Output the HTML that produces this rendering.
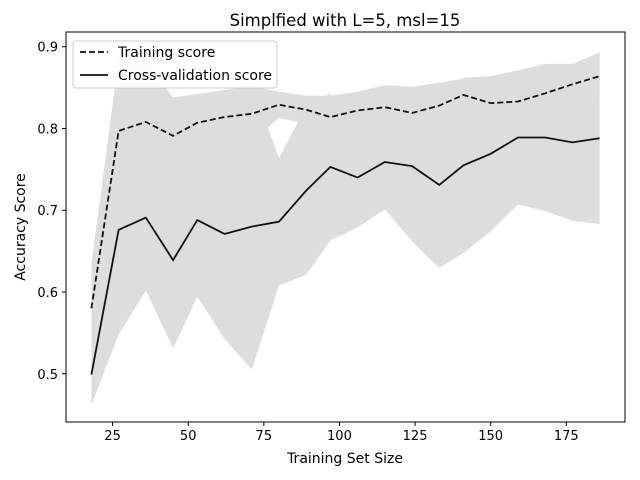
<!DOCTYPE html>
<html><head><meta charset="utf-8"><style>
html,body{margin:0;padding:0;background:#fff;}
svg{display:block;font-family:"DejaVu Sans","Liberation Sans",sans-serif;}
</style></head><body>
<svg id="chart" width="640" height="480" viewBox="0 0 640 480">
<rect x="0" y="0" width="640" height="480" fill="#fff"/>
<g id="bands"></g>
<g id="lines"></g>
<g id="axes"></g>
<text x="345" y="26" text-anchor="middle" font-size="16.5" fill="#000">Simplfied with L=5, msl=15</text>
<text x="345" y="463" text-anchor="middle" font-size="14" fill="#000">Training Set Size</text>
<text x="25" y="227" text-anchor="middle" font-size="14" fill="#000" transform="rotate(-90 25 227)">Accuracy Score</text>
<g>
<rect x="73" y="41" width="204" height="47" rx="3" fill="#fff" fill-opacity="0.9" stroke="#ccc"/>
<line x1="80" y1="52" x2="108" y2="52" stroke="#111" stroke-width="1.8" stroke-dasharray="6,3"/>
<text x="118" y="57" font-size="14" fill="#000">Training score</text>
<line x1="80" y1="75" x2="108" y2="75" stroke="#111" stroke-width="1.8"/>
<text x="118" y="80" font-size="14" fill="#000">Cross-validation score</text>
</g>
</svg>
<script>
const sizes=[18,27,36,45,53,62,71,80,89,97,106,115,124,133,141,150,159,168,177,186];
const trainScore=[0.580,0.797,0.808,0.791,0.807,0.814,0.818,0.829,0.823,0.814,0.822,0.826,0.819,0.828,0.841,0.831,0.833,0.843,0.854,0.864];
const trainStd=[0.054,0.088,0.074,0.047,0.035,0.033,0.034,0.016,0.017,0.026,0.023,0.027,0.032,0.028,0.020,0.032,0.036,0.034,0.024,0.029];
const cvScore=[0.499,0.676,0.691,0.639,0.688,0.671,0.680,0.686,0.724,0.753,0.740,0.759,0.754,0.731,0.755,0.769,0.789,0.789,0.783,0.788];
const cvStd=[0.037,0.128,0.089,0.108,0.094,0.128,0.175,0.078,0.103,0.090,0.061,0.058,0.092,0.102,0.107,0.095,0.082,0.090,0.096,0.105];
const xTicks=[25,50,75,100,125,150,175];
const yTicks=[0.5,0.6,0.7,0.8,0.9];

const L=66,R=625,T=32,B=422;
const xMin=9.6,xMax=194.4,yMin=0.441,yMax=0.918;
const sx=v=>L+(v-xMin)/(xMax-xMin)*(R-L);
const sy=v=>B-(v-yMin)/(yMax-yMin)*(B-T);
const NS="http://www.w3.org/2000/svg";
function mk(tag,attrs,parent){const e=document.createElementNS(NS,tag);for(const k in attrs)e.setAttribute(k,attrs[k]);parent.appendChild(e);return e;}

const bands=document.getElementById('bands');
function band(mean,std){
  const up=sizes.map((s,i)=>sx(s)+','+sy(mean[i]+std[i]));
  const lo=sizes.map((s,i)=>sx(s)+','+sy(mean[i]-std[i])).reverse();
  return up.concat(lo).join(' ');
}
const b1=mk('polygon',{points:band(trainScore,trainStd),fill:'#dddddd'},bands);


const b2=mk('polygon',{points:band(cvScore,cvStd),fill:'#dddddd'},bands);



const lines=document.getElementById('lines');
const l1=mk('polyline',{points:sizes.map((s,i)=>sx(s)+','+sy(trainScore[i])).join(' '),fill:'none',stroke:'#111','stroke-width':1.8,'stroke-dasharray':'6,3'},lines);


const l2=mk('polyline',{points:sizes.map((s,i)=>sx(s)+','+sy(cvScore[i])).join(' '),fill:'none',stroke:'#111','stroke-width':1.8},lines);



const axes=document.getElementById('axes');
const fr=mk('rect',{x:L,y:T,width:R-L,height:B-T,fill:'none',stroke:'#000','stroke-width':1},axes);


xTicks.forEach(t=>{
  const x=sx(t);
  const tk=mk('line',{x1:x,y1:B,x2:x,y2:B+4,stroke:'#000'},axes);
  
  
  const tx=mk('text',{x:x,y:B+18,'text-anchor':'middle','font-size':13,fill:'#000'},axes);
  tx.textContent=t;
  
  
});
yTicks.forEach(t=>{
  const y=sy(t);
  const tk=mk('line',{x1:L-4,y1:y,x2:L,y2:y,stroke:'#000'},axes);
  
  
  const tx=mk('text',{x:L-8,y:y+5,'text-anchor':'end','font-size':13,fill:'#000'},axes);
  tx.textContent=t.toFixed(1);
  
  
});
</script>
</body></html>
